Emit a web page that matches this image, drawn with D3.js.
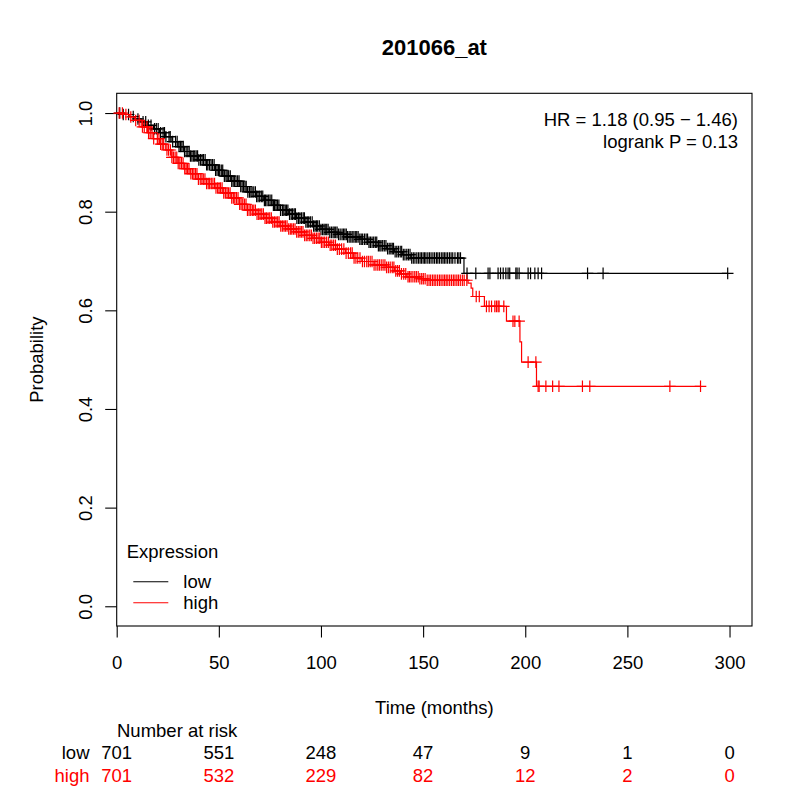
<!DOCTYPE html>
<html>
<head>
<meta charset="utf-8">
<script src="https://cdn.jsdelivr.net/npm/d3@7"></script>
<style>
  body { margin: 0; background: #fff; }
  text { font-family: "Liberation Sans", Arial, Helvetica, sans-serif; }
</style>
</head>
<body>
<svg id="chart" width="800" height="800"></svg>
<script>
// step points of the KM curves (months, survival)
const lowTimes = [0, 3, 6, 9, 12, 15, 18, 21, 24, 27, 30, 33, 36, 40, 44, 48, 52, 56, 60, 64, 68, 72, 76, 80, 84, 88, 92, 96, 100, 104, 108, 113, 119, 123, 128, 132, 136, 140, 144, 170];
const lowSurv  = [1, 0.997, 0.993, 0.988, 0.982, 0.975, 0.968, 0.96, 0.952, 0.942, 0.932, 0.922, 0.913, 0.905, 0.895, 0.884, 0.872, 0.862, 0.851, 0.84, 0.831, 0.823, 0.813, 0.803, 0.795, 0.787, 0.779, 0.771, 0.764, 0.758, 0.754, 0.749, 0.744, 0.738, 0.731, 0.725, 0.719, 0.713, 0.706, 0.675];

const highTimes = [0, 3, 6, 9, 12, 15, 18, 21, 24, 27, 30, 33, 36, 40, 44, 48, 52, 56, 60, 64, 68, 72, 76, 80, 84, 88, 92, 96, 100, 104, 108, 112, 116, 120, 126, 132, 136, 139, 142, 148, 152, 172, 173.5, 174.3, 180, 190.8, 197.4, 198.2, 205.5];
const highSurv  = [1, 0.997, 0.992, 0.985, 0.972, 0.96, 0.948, 0.937, 0.925, 0.91, 0.898, 0.887, 0.877, 0.866, 0.857, 0.848, 0.838, 0.828, 0.815, 0.803, 0.795, 0.787, 0.779, 0.771, 0.765, 0.759, 0.752, 0.746, 0.738, 0.732, 0.724, 0.716, 0.706, 0.699, 0.692, 0.687, 0.68, 0.674, 0.668, 0.664, 0.661, 0.655, 0.645, 0.628, 0.608, 0.578, 0.536, 0.495, 0.446];

// censoring times (months)
const lowCensorA = [1.5, 3.2, 5.8, 8.1, 10.4, 12.9, 14.2, 16.8, 18.5, 20.3, 22.7, 24.1, 25.6, 27.4, 28.8, 30.5, 31.9, 33.2, 34.8, 36.1, 37.5, 38.9, 40.2, 41.8, 43.3, 44.6, 46.2, 47.7, 49.1, 50.4, 51.9, 53.5, 54.8, 56.3, 57.6, 59.2, 60.7, 62.1, 63.4, 65.0, 66.3, 67.9, 69.2, 70.8, 72.3, 73.6, 75.1, 76.7, 78.0, 79.4, 81.1, 82.5, 83.8, 85.4, 86.9, 88.2, 89.7, 91.3, 92.6, 94.0, 95.7, 97.1, 98.4, 100.0, 101.5, 102.8, 104.3, 105.9, 107.2, 108.6, 110.3, 111.7, 113.0, 114.6, 116.1, 117.5, 119.0, 120.4, 122.1, 123.5, 125.0, 126.6, 128.1, 129.4, 131.0, 132.6, 134.2, 135.5, 137.1, 138.8, 140.3, 142.0, 143.6, 145.2, 146.9, 148.5, 150.0, 151.4, 153.1, 154.8, 156.5, 158.0, 159.7, 161.2, 162.9, 164.5, 166.8, 168.3, 171.5, 175.8, 181.8, 182.7, 186.7, 187.9, 189.2, 190.5, 191.6, 192.4, 195.4, 196.0, 197.0, 201.4, 202.6, 204.7, 206.3, 208.0, 230.5, 238.1, 299.1];
const lowCensorB = [15.5, 19.4, 21.5, 23.4, 26.2, 29.6, 31.2, 32.6, 34.0, 35.5, 36.8, 38.2, 39.6, 41.0, 42.5, 44.0, 45.4, 46.9, 48.4, 49.8, 51.2, 52.7, 54.1, 55.6, 57.0, 58.4, 59.9, 61.4, 62.8, 64.2, 65.7, 67.1, 68.5, 70.0, 71.5, 72.9, 74.4, 75.9, 77.3, 78.7, 80.2, 81.8, 83.1, 84.6, 86.1, 87.5, 89.0, 90.5, 91.9, 93.3, 94.8, 96.4, 97.8, 99.2, 100.8, 102.1, 103.5, 105.1, 106.5, 107.9, 109.4, 111.0, 112.4, 113.8, 115.3, 116.8, 118.2, 119.7, 121.3, 122.8, 124.2, 125.8, 127.3, 128.8, 130.2, 131.8, 133.4, 134.9, 136.3, 137.9, 139.5, 141.1, 142.8, 144.4, 146.0, 147.7, 149.2, 150.7, 152.3, 153.9, 155.6, 157.2, 158.9, 160.4, 162.0, 163.7, 165.6, 167.5];
const highCensorA = [1.2, 2.8, 4.5, 6.9, 9.3, 11.0, 12.6, 14.8, 16.4, 18.1, 19.9, 21.5, 23.0, 24.6, 26.3, 27.8, 29.4, 30.9, 32.5, 34.0, 35.4, 37.1, 38.6, 40.0, 41.7, 43.2, 44.8, 46.3, 47.9, 49.4, 50.8, 52.4, 54.0, 55.5, 57.1, 58.6, 60.2, 61.7, 63.3, 64.8, 66.4, 67.9, 69.5, 71.0, 72.6, 74.1, 75.7, 77.2, 78.8, 80.3, 81.9, 83.4, 85.0, 86.5, 88.1, 89.7, 91.2, 92.8, 94.5, 96.1, 97.8, 99.4, 101.0, 102.7, 104.5, 106.2, 108.0, 110.1, 112.3, 114.5, 116.2, 118.0, 120.3, 122.4, 124.1, 126.0, 127.8, 129.5, 131.3, 133.0, 134.9, 136.6, 138.4, 140.5, 142.6, 144.1, 145.9, 147.6, 149.3, 151.0, 152.9, 154.6, 156.2, 158.0, 159.7, 161.3, 163.0, 164.8, 166.5, 168.2, 170.1, 171.4, 176.0, 177.5, 181.0, 182.3, 183.5, 185.1, 185.9, 186.7, 187.2, 189.5, 194.0, 194.9, 197.0, 201.4, 205.2, 206.3, 206.8, 210.1, 213.4, 216.5, 228.0, 231.6, 270.8, 285.8];
const highCensorB = [13.5, 15.6, 17.3, 20.7, 22.3, 25.4, 27.0, 28.6, 30.1, 31.7, 33.3, 34.7, 36.3, 37.8, 39.3, 40.9, 42.4, 44.0, 45.5, 47.1, 48.6, 50.1, 51.6, 53.2, 54.7, 56.3, 57.8, 59.4, 60.9, 62.5, 64.0, 65.6, 67.1, 68.7, 70.2, 71.8, 73.3, 74.9, 76.4, 78.0, 79.5, 81.1, 82.6, 84.2, 85.7, 87.3, 88.9, 90.4, 92.0, 93.6, 95.3, 96.9, 98.6, 100.2, 101.8, 103.6, 105.3, 107.1, 109.0, 111.2, 113.4, 115.3, 117.1, 119.1, 121.3, 123.2, 125.0, 126.9, 128.6, 130.4, 132.1, 133.9, 135.7, 137.5, 139.4, 141.5, 143.3, 145.0, 146.7, 148.4, 150.1, 152.0, 153.7, 155.4, 157.1, 158.8, 160.5, 162.1, 163.9, 165.6, 167.3, 169.2];

const xTicks = [0, 50, 100, 150, 200, 250, 300];
const yTicks = [0, 0.2, 0.4, 0.6, 0.8, 1.0];
const riskLow  = [701, 551, 248, 47, 9, 1, 0];
const riskHigh = [701, 532, 229, 82, 12, 2, 0];
const groups = ["low", "high"];
const groupColors = ["#000000", "#ff0000"];

const svg = d3.select("#chart");
const plotL = 116.7, plotR = 752, plotT = 93.3, plotB = 626;

const x = d3.scaleLinear().domain([0, 311]).range([plotL, plotR]);
const y = d3.scaleLinear().domain([-0.04, 1.04]).range([plotB, plotT]);

// box
svg.append("rect")
  .attr("x", plotL).attr("y", plotT)
  .attr("width", plotR - plotL).attr("height", plotB - plotT)
  .attr("fill", "none").attr("stroke", "#000").attr("stroke-width", 1.1);

// axes
const xAxis = d3.axisBottom(x).tickValues(xTicks).tickSize(11.5).tickPadding(18).tickFormat(d3.format("d"));
const gx = svg.append("g").attr("transform", `translate(0,${plotB})`).call(xAxis);
gx.select(".domain").remove();
gx.selectAll("line").attr("stroke", "#000").attr("stroke-width", 1.1);
gx.selectAll("text").attr("font-size", "18.5px").attr("fill", "#000")
  .attr("font-family", '"Liberation Sans", Arial, sans-serif');

const yAxis = d3.axisLeft(y).tickValues(yTicks).tickSize(11.5).tickFormat(d3.format(".1f"));
const gy = svg.append("g").attr("transform", `translate(${plotL},0)`).call(yAxis);
gy.select(".domain").remove();
gy.selectAll("line").attr("stroke", "#000").attr("stroke-width", 1.1);
gy.selectAll("text").remove();
gy.selectAll(".tick").append("text")
  .attr("transform", "translate(-25,0) rotate(-90)")
  .attr("text-anchor", "middle")
  .attr("font-size", "18.5px").attr("fill", "#000")
  .text(d => d3.format(".1f")(d));

// titles
svg.append("text").attr("x", (plotL + plotR) / 2).attr("y", 55)
  .attr("text-anchor", "middle").attr("font-size", "22px").attr("font-weight", "bold")
  .text("201066_at");
svg.append("text").attr("x", (plotL + plotR) / 2).attr("y", 713.5)
  .attr("text-anchor", "middle").attr("font-size", "18.5px").text("Time (months)");
svg.append("text").attr("transform", `translate(43,${(plotT + plotB) / 2}) rotate(-90)`)
  .attr("text-anchor", "middle").attr("font-size", "18.5px").text("Probability");

// HR / logrank
svg.append("text").attr("x", 738).attr("y", 125.5).attr("text-anchor", "end")
  .attr("font-size", "18.5px").text("HR = 1.18 (0.95 \u2212 1.46)");
svg.append("text").attr("x", 738).attr("y", 147.5).attr("text-anchor", "end")
  .attr("font-size", "18.5px").text("logrank P = 0.13");

// curves
function survAt(times, surv, t) {
  const i = d3.bisectRight(times, t) - 1;
  return surv[Math.max(0, i)];
}
const line = d3.line().x(d => x(d[0])).y(d => y(d[1])).curve(d3.curveStepAfter);
const series = [
  { times: lowTimes, surv: lowSurv, censor: lowCensorA.concat(lowCensorB), color: groupColors[0] },
  { times: highTimes, surv: highSurv, censor: highCensorA.concat(highCensorB), color: groupColors[1] }
];
const m = 5.8;
series.forEach(s => {
  const pts = s.times.map((t, i) => [t, s.surv[i]]);
  const last = d3.max(s.censor);
  pts.push([last, s.surv[s.surv.length - 1]]);
  svg.append("path").attr("d", line(pts))
    .attr("fill", "none").attr("stroke", s.color).attr("stroke-width", 1.2);
  svg.append("g").selectAll("path").data(s.censor).join("path")
    .attr("d", t => {
      const cx = x(t), cy = y(survAt(s.times, s.surv, t));
      return `M${cx - m},${cy}H${cx + m}M${cx},${cy - m}V${cy + m}`;
    })
    .attr("fill", "none").attr("stroke", s.color).attr("stroke-width", 1.2);
});

// legend
svg.append("text").attr("x", 126.7).attr("y", 558).attr("font-size", "18.5px").text("Expression");
groups.forEach((g, i) => {
  const ly = 581.7 + i * 21;
  svg.append("line").attr("x1", 133.3).attr("x2", 168.3).attr("y1", ly).attr("y2", ly)
    .attr("stroke", groupColors[i]).attr("stroke-width", 1.1);
  svg.append("text").attr("x", 183.3).attr("y", ly + 6.3).attr("font-size", "18.5px").text(g);
});

// number at risk table
svg.append("text").attr("x", 117).attr("y", 736.5).attr("font-size", "18.5px").text("Number at risk");
[riskLow, riskHigh].forEach((row, i) => {
  const by = 759 + i * 22.5;
  svg.append("text").attr("x", 89.5).attr("y", by).attr("text-anchor", "end")
    .attr("font-size", "18.5px").attr("fill", groupColors[i]).text(groups[i]);
  svg.append("g").selectAll("text").data(row).join("text")
    .attr("x", (d, j) => x(xTicks[j])).attr("y", by)
    .attr("text-anchor", "middle").attr("font-size", "18.5px")
    .attr("fill", groupColors[i]).text(d => d);
});
</script>
</body>
</html>
